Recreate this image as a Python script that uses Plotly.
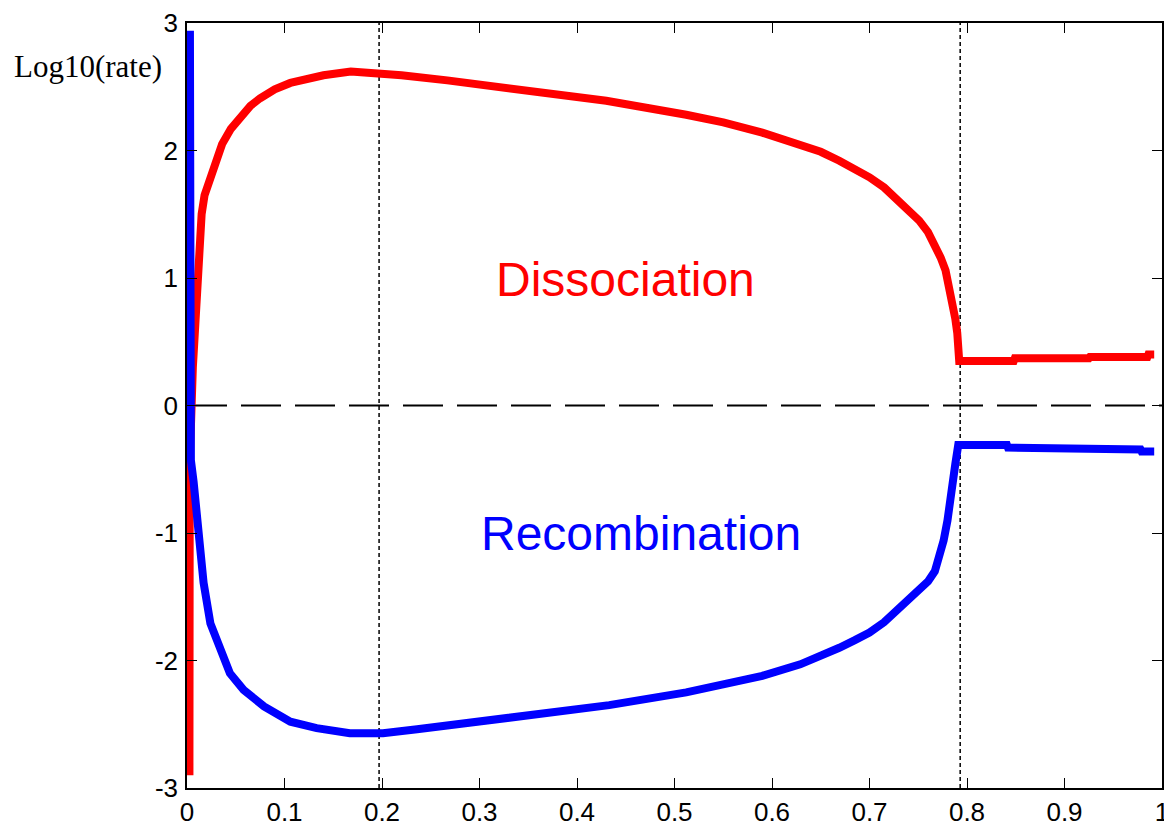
import plotly.graph_objects as go

# Dissociation (red) curve: x, log10(rate)
diss_x = [0.0025, 0.0028, 0.006, 0.0085, 0.0105, 0.012, 0.015, 0.018, 0.024, 0.030,
          0.036, 0.045, 0.055, 0.065, 0.075, 0.090, 0.106, 0.125, 0.140, 0.168,
          0.195, 0.220, 0.267, 0.355, 0.430, 0.512, 0.550, 0.590, 0.630, 0.650,
          0.669, 0.685, 0.700, 0.715, 0.727, 0.740, 0.751, 0.760, 0.767, 0.773,
          0.778, 0.782, 0.785, 0.788, 0.790, 0.792, 0.848, 0.849, 0.925,
          0.926, 0.985, 0.986, 0.992]
diss_y = [-2.90, -0.45, 0.30, 0.60, 0.95, 1.25, 1.50, 1.65, 1.78, 1.95,
          2.05, 2.17, 2.27, 2.35, 2.41, 2.48, 2.53, 2.57, 2.59, 2.62,
          2.61, 2.59, 2.55, 2.47, 2.39, 2.28, 2.22, 2.14, 2.05, 1.99,
          1.92, 1.86, 1.79, 1.71, 1.62, 1.54, 1.45, 1.36, 1.26, 1.16,
          1.06, 0.93, 0.80, 0.68, 0.57, 0.35, 0.35, 0.37, 0.37,
          0.38, 0.38, 0.40, 0.40]

# Recombination (blue) curve
rec_x = [0.003, 0.0035, 0.004, 0.0068, 0.0103, 0.0136, 0.017, 0.024, 0.034, 0.044,
         0.058, 0.079, 0.106, 0.133, 0.167, 0.201, 0.236, 0.277, 0.355, 0.433,
         0.512, 0.550, 0.590, 0.629, 0.650, 0.669, 0.685, 0.700, 0.715, 0.727,
         0.740, 0.751, 0.760, 0.767, 0.772, 0.776, 0.780, 0.784,
         0.788, 0.791, 0.841, 0.842, 0.916, 0.917, 0.978, 0.979, 0.992]
rec_y = [2.94, 1.25, -0.43, -0.60, -0.85, -1.15, -1.39, -1.71, -1.92, -2.10,
         -2.23, -2.36, -2.48, -2.53, -2.57, -2.57, -2.54, -2.50, -2.42, -2.35,
         -2.25, -2.19, -2.12, -2.03, -1.97, -1.90, -1.84, -1.78, -1.70, -1.61,
         -1.53, -1.45, -1.38, -1.30, -1.19, -1.06, -0.90, -0.72,
         -0.46, -0.31, -0.31, -0.33, -0.33, -0.345, -0.345, -0.36, -0.36]

# reference lines
vline_x = [0.197, 0.793]
hline_y = [0.0]

x_ticks = [0, 0.1, 0.2, 0.3, 0.4, 0.5, 0.6, 0.7, 0.8, 0.9, 1]
x_ticktext = ["0", "0.1", "0.2", "0.3", "0.4", "0.5", "0.6", "0.7", "0.8", "0.9", "1"]
y_ticks = [-3, -2, -1, 0, 1, 2, 3]
y_ticktext = ["-3", "-2", "-1", "0", "1", "2", "3"]

W, H = 1164, 824
ML, MR, MT, MB = 179, 10, 15, 44

fig = go.Figure()

for vx in vline_x:
    fig.add_trace(go.Scatter(x=[vx, vx], y=[-3, 3], mode="lines",
                             line=dict(color="black", width=1.5, dash="4px,3px"),
                             hoverinfo="skip", showlegend=False))
for hy in hline_y:
    fig.add_trace(go.Scatter(x=[0, 1], y=[hy, hy], mode="lines",
                             line=dict(color="black", width=2, dash="40px,14px"),
                             hoverinfo="skip", showlegend=False))

fig.add_trace(go.Scatter(x=diss_x, y=diss_y, mode="lines", name="Dissociation",
                         line=dict(color="#ff0000", width=8), showlegend=False))
fig.add_trace(go.Scatter(x=rec_x, y=rec_y, mode="lines", name="Recombination",
                         line=dict(color="#0000ff", width=8), showlegend=False))

fig.add_annotation(x=0.45, y=0.99, xref="x", yref="y", text="Dissociation",
                   showarrow=False, font=dict(family="Liberation Sans, Arial", size=48, color="#ff0000"),
                   xanchor="center", yanchor="middle")
fig.add_annotation(x=0.466, y=-1.0, xref="x", yref="y", text="Recombination",
                   showarrow=False, font=dict(family="Liberation Sans, Arial", size=48, color="#0000ff"),
                   xanchor="center", yanchor="middle")
# y label placed at the top-left, outside the plot area
fig.add_annotation(xref="paper", yref="paper",
                   x=(4 - ML) / (W - ML - MR),
                   y=1 - (58 - MT) / (H - MT - MB),
                   text="Log10(rate)", showarrow=False,
                   font=dict(family="Liberation Serif, Times New Roman", size=31, color="black"),
                   xanchor="left", yanchor="middle")

axis_common = dict(showline=True, linecolor="black", linewidth=1.5, mirror="ticks",
                   ticks="inside", ticklen=10, tickwidth=1, tickcolor="black",
                   showgrid=False, zeroline=False, automargin=False,
                   tickfont=dict(family="Liberation Sans, Arial", size=26, color="black"))

fig.update_layout(
    width=W, height=H,
    margin=dict(l=ML, r=MR, t=MT, b=MB),
    paper_bgcolor="white", plot_bgcolor="white",
    xaxis=dict(range=[0, 1], tickvals=x_ticks, ticktext=x_ticktext, **axis_common),
    yaxis=dict(range=[-3, 3], tickvals=y_ticks, ticktext=y_ticktext, ticklabelstandoff=2, **axis_common),
)

fig.write_html("out.html")
